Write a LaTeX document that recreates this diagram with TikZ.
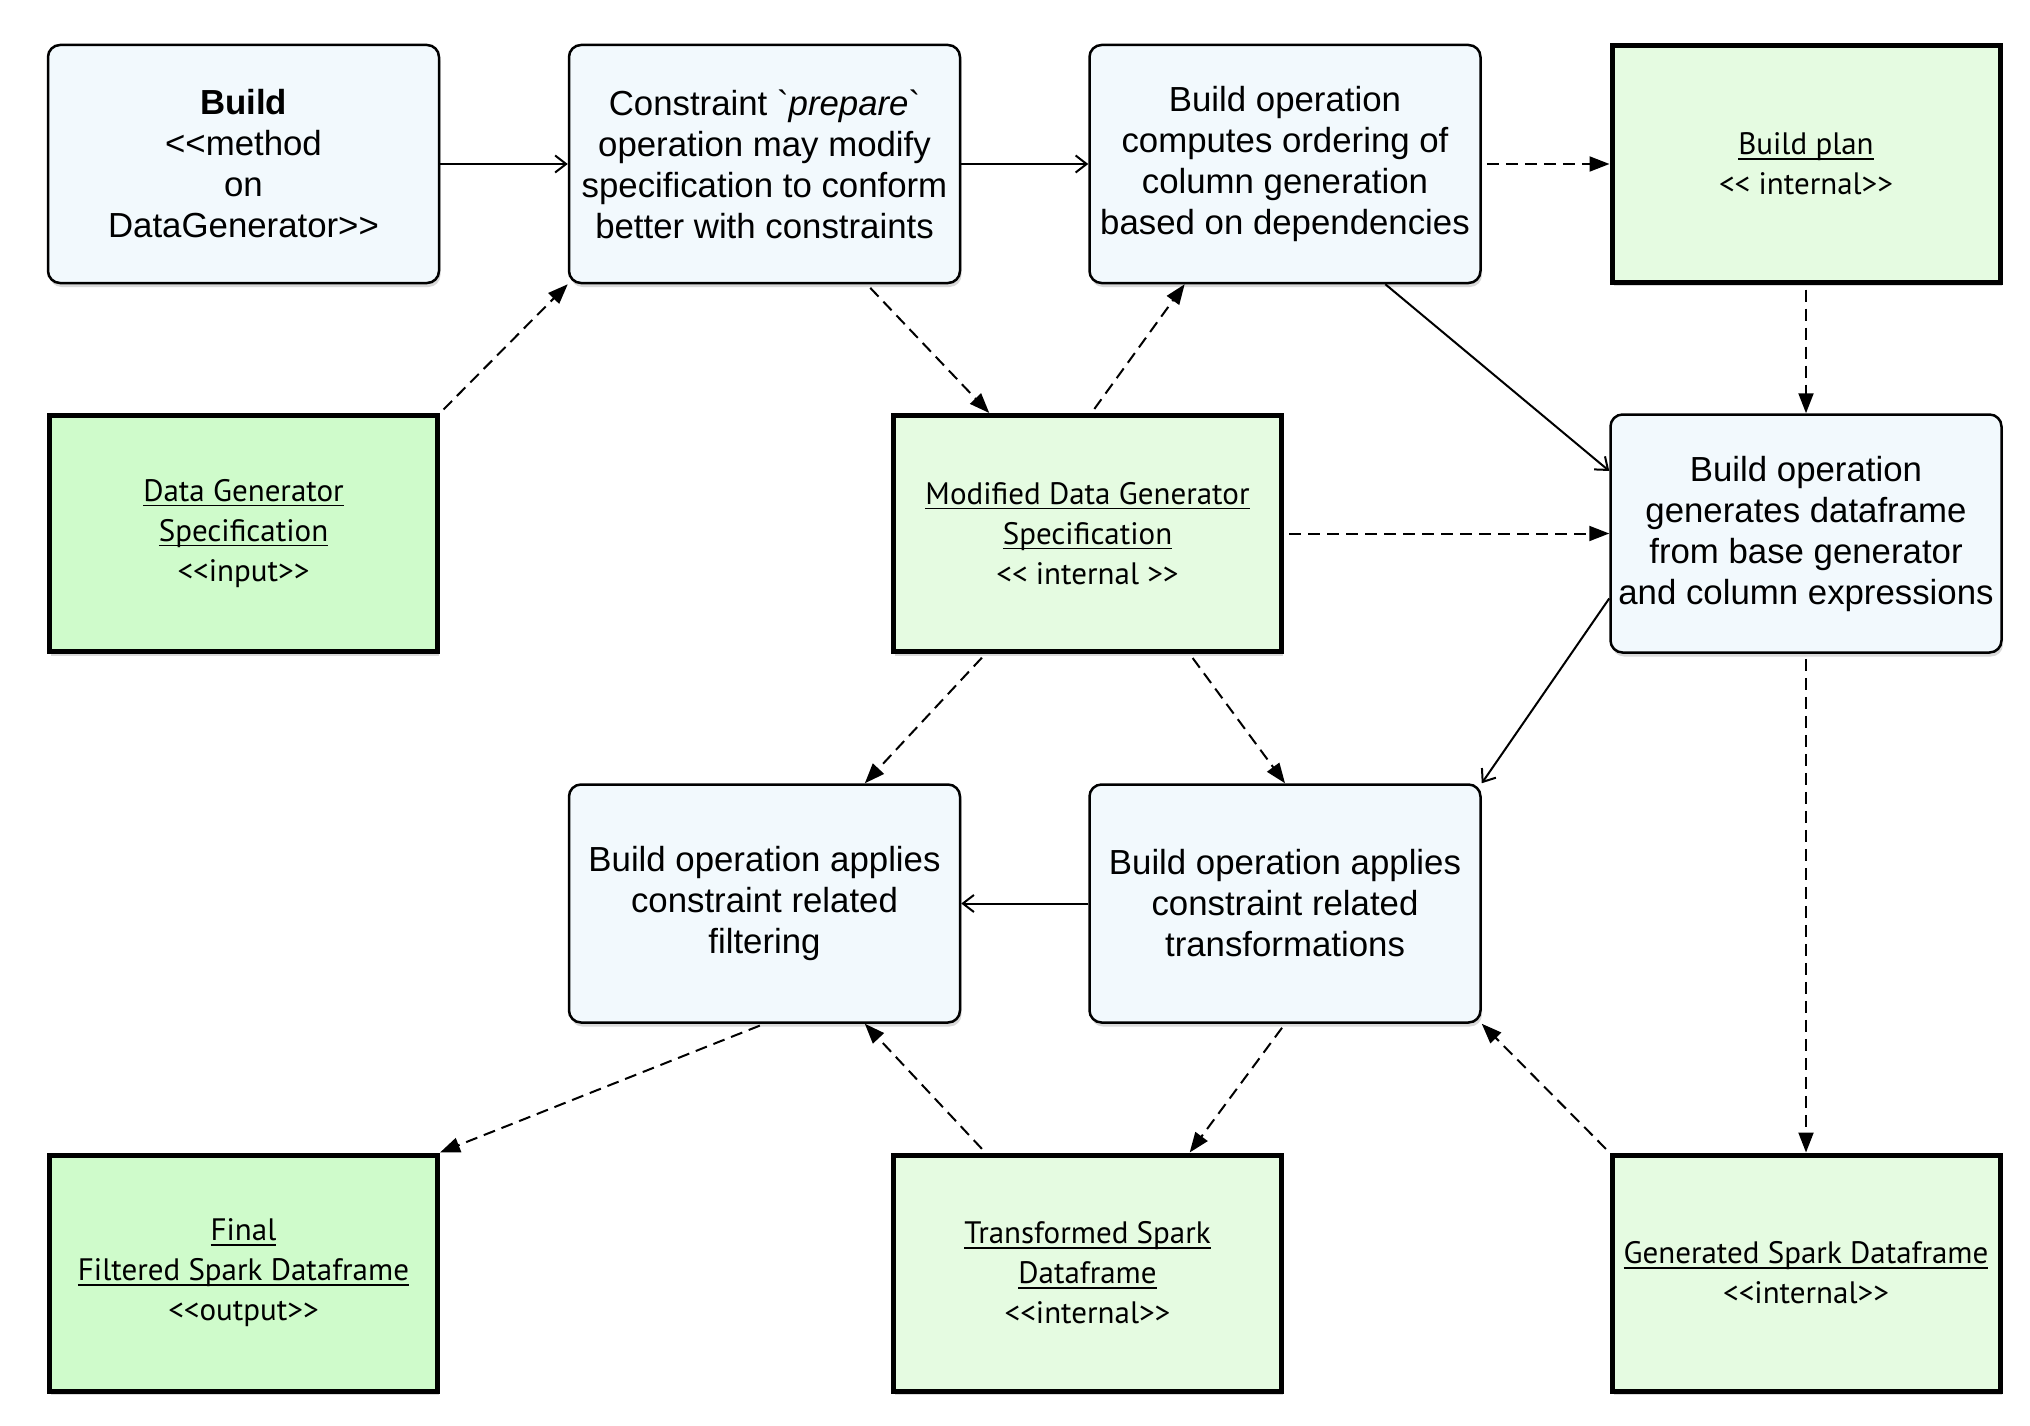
\documentclass[tikz,border=0pt]{standalone}
\usetikzlibrary{arrows.meta,calc,shadows}
\font\bluefont="Liberation Sans" at 34.8pt
\font\bluefontB="Liberation Sans/B" at 34.8pt
\font\bluefontI="Liberation Sans/I" at 34.8pt
\font\gfont="PT Sans" at 31pt
\definecolor{bluefill}{HTML}{F2F9FD}
\definecolor{greenA}{HTML}{CFFBCB}
\definecolor{greenB}{HTML}{E5FBE1}
\newsavebox\ulbox
\newcommand{\ulx}[1]{\sbox\ulbox{#1}\rlap{\rule[-5pt]{\wd\ulbox}{1.8pt}}\usebox\ulbox}
\newcommand{\LLx}{\char`\<\kern0pt\char`\<{}}
\newcommand{\GGx}{\char`\>\kern0pt\char`\>{}}
\begin{document}
\begin{tikzpicture}[x=1pt,y=-1pt,
  opbox/.style={draw=black, line width=2.5pt, fill=bluefill, rounded corners=12pt,
    minimum width=391pt, minimum height=238pt, inner sep=0pt, align=center,
    font={\bluefont\baselineskip=41pt},
    drop shadow={opacity=0.3, shadow xshift=1.5pt, shadow yshift=-4pt}},
  databoxA/.style={draw=black, line width=5pt, fill=greenA,
    minimum width=388pt, minimum height=236pt, inner sep=0pt, align=center,
    font={\gfont\baselineskip=40pt},
    drop shadow={opacity=0.3, shadow xshift=1.5pt, shadow yshift=-4pt}},
  databoxB/.style={databoxA, fill=greenB},
  solidarr/.style={draw=black, line width=2pt, -{Straight Barb[length=11pt,width=17pt,line width=2pt]}},
  dasharr/.style={draw=black, line width=2pt, dash pattern=on 12pt off 7pt,
    shorten <=5pt, -{Triangle[length=20pt,width=15pt]}}
]
\useasboundingbox (0,0) rectangle (2030,1426);

% row 1
\node[opbox] (build) at (243.5,164) {{\bluefontB Build}\\\LLx method\\on\\DataGenerator\GGx};
\node[opbox] (cons) at (764.5,164) {Constraint \char"60{\bluefontI prepare}\char"60{}\\operation may modify\\specification to conform\\better with constraints};
\node[opbox] (comp) at (1285,164) {Build operation\\computes ordering of\\column generation\\based on dependencies};
\node[databoxB] (plan) at (1806,164) {\ulx{Build plan}\\\LLx\ internal\GGx};

% row 2
\node[databoxA] (dgs) at (243.5,533.5) {\ulx{Data Generator}\\\ulx{Specification}\\\LLx input\GGx};
\node[databoxB] (mod) at (1087.5,533.5) {\ulx{Modified Data Generator}\\\ulx{Specification}\\\LLx\ internal \GGx};
\node[opbox] (gen) at (1806,533.5) {Build operation\\generates dataframe\\from base generator\\and column expressions};

% row 3
\node[opbox] (filt) at (764.5,903.5) {Build operation applies\\constraint related\\filtering};
\node[opbox] (trans) at (1285,903.5) {Build operation applies\\constraint related\\transformations};

% row 4
\node[databoxA] (final) at (243.5,1273) {\ulx{Final}\\\ulx{Filtered Spark Dataframe}\\\LLx output\GGx};
\node[databoxB] (tsd) at (1087.5,1273) {\ulx{Transformed Spark}\\\ulx{Dataframe}\\\LLx internal\GGx};
\node[databoxB] (gsd) at (1806,1273) {\ulx{Generated Spark Dataframe}\\\LLx internal\GGx};

% connectors
\draw[solidarr] (build.east) -- (cons.west);
\draw[solidarr] (cons.east) -- (comp.west);
\draw[dasharr] (comp.east) -- (plan.west);
\draw[dasharr] (dgs.north east) -- (cons.south west);
\draw[dasharr] ($(cons.south west)!0.76!(cons.south east)$) -- ($(mod.north west)!0.25!(mod.north east)$);
\draw[dasharr] ($(mod.north west)!0.51!(mod.north east)$) -- ($(comp.south west)!0.245!(comp.south east)$);
\draw[solidarr] ($(comp.south west)!0.755!(comp.south east)$) -- ($(gen.north west)!0.24!(gen.south west)$);
\draw[dasharr] (plan.south) -- (gen.north);
\draw[dasharr] (mod.east) -- (gen.west);
\draw[solidarr] ($(gen.north west)!0.77!(gen.south west)$) -- (trans.north east);
\draw[dasharr] ($(mod.south west)!0.24!(mod.south east)$) -- ($(filt.north west)!0.755!(filt.north east)$);
\draw[dasharr] ($(mod.south west)!0.76!(mod.south east)$) -- (trans.north);
\draw[solidarr] (trans.west) -- (filt.east);
\draw[dasharr] (filt.south) -- (final.north east);
\draw[dasharr] ($(tsd.north west)!0.24!(tsd.north east)$) -- ($(filt.south west)!0.755!(filt.south east)$);
\draw[dasharr] (trans.south) -- ($(tsd.north west)!0.76!(tsd.north east)$);
\draw[dasharr] (gsd.north west) -- (trans.south east);
\draw[dasharr] (gen.south) -- (gsd.north);
\end{tikzpicture}
\end{document}
